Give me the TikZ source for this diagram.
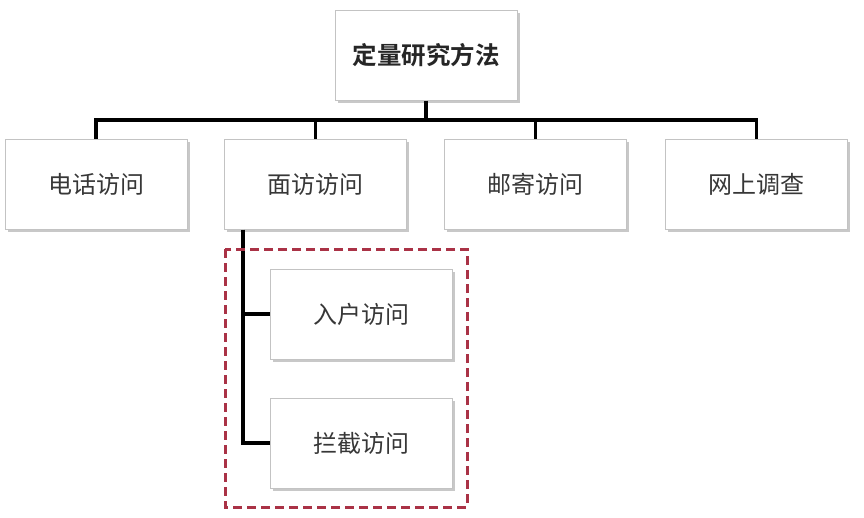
\documentclass[tikz,border=0pt]{standalone}
\usepackage{fontspec}
\newfontfamily\cjk{Noto Sans CJK SC}[BoldFont={Noto Sans CJK SC Bold}]
\usetikzlibrary{shadows,positioning}
\definecolor{boxline}{RGB}{195,195,195}
\definecolor{txt}{RGB}{55,55,55}
\definecolor{dashred}{RGB}{170,50,70}
\tikzset{
  box/.style={draw=boxline, line width=1pt, fill=white, minimum width=182pt, minimum height=90pt,
    inner sep=0pt, font=\cjk\fontsize{24}{28}\selectfont, text=txt,
    drop shadow={shadow xshift=2.5pt, shadow yshift=-2.5pt, fill=black!30, opacity=0.7}},
  rootbox/.style={box, font=\cjk\bfseries\fontsize{24.5}{28}\selectfont, text=black!85},
  conn/.style={line width=3.2pt, black},
  group/.style={draw=dashred, line width=3pt, dash pattern=on 9pt off 5pt}
}
\begin{document}
\begin{tikzpicture}[x=1pt,y=-1pt]
\useasboundingbox (0,0) rectangle (864,517);
\fill[white] (0,0) rectangle (864,517);
\node[rootbox] (root) at (426,55) {定量研究方法};
\node[box] (c1) at (96,184) {电话访问};
\node[box] (c2) at (315.5,184) {面访访问};
\node[box] (c3) at (535.5,184) {邮寄访问};
\node[box] (c4) at (756.5,184) {网上调查};
\node[box] (s1) at (361,314) {入户访问};
\node[box] (s2) at (361,443) {拦截访问};
\coordinate (bus) at (0,120);
\coordinate (trunk) at (243,0);
\draw[conn] (root.south) -- (root.south |- bus);
\draw[conn, line cap=rect] (c1.north |- bus) -- (c4.north |- bus);
\foreach \c in {c1,c2,c3,c4} \draw[conn] (\c.north) -- (\c.north |- bus);
\draw[conn] (c2.south -| trunk) |- (s2.west);
\draw[conn] (trunk |- s1.west) -- (s1.west);
\draw[group] (225,249) rectangle (467,507);
\end{tikzpicture}
\end{document}
